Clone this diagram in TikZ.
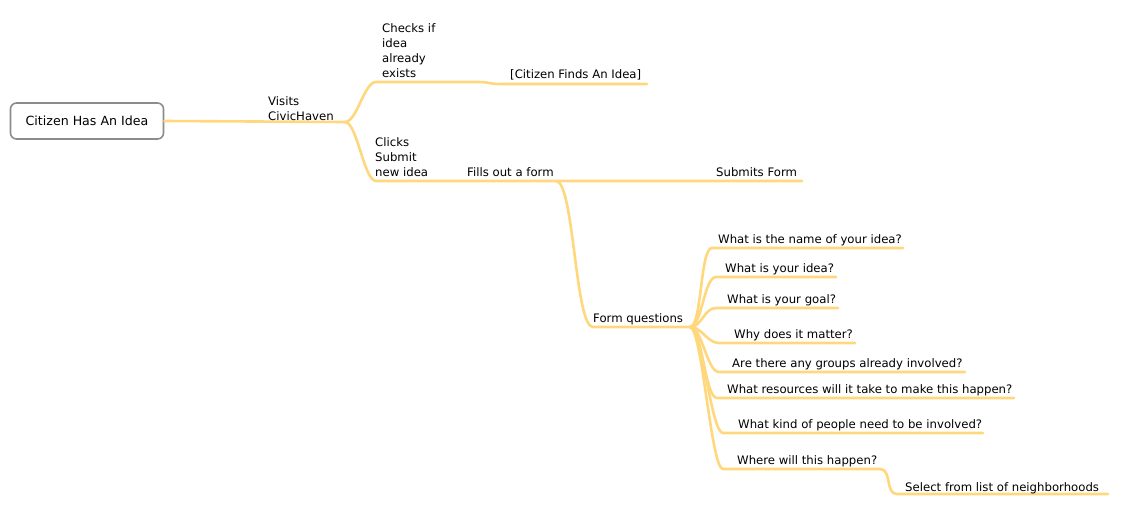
\documentclass[tikz,border=0pt]{standalone}
\usepackage{fontspec}
\setmainfont{DejaVu Sans}
\usepackage{xcolor}
\definecolor{branchcol}{HTML}{FFD77C}
\definecolor{boxcol}{HTML}{8C8C8C}

\tikzset{
  branch/.style={draw=branchcol, line width=2.6pt, line cap=round},
  twig/.style={out=0, in=180, distance=12pt},
  topic/.style={anchor=base west, inner sep=0pt, align=left, font=\fontsize{11.7}{15}\selectfont},
  rootbox/.style={draw=boxcol, line width=1.6pt, rounded corners=6pt, fill=white,
    minimum width=153pt, minimum height=36pt, font=\fontsize{12.6}{14}\selectfont}
}

\begin{document}
\begin{tikzpicture}[x=1pt, y=-1pt]
\useasboundingbox (0,0) rectangle (1125,514);

% line ends
\coordinate (visitsB) at (345,122);
\coordinate (checksA) at (376,82);
\coordinate (checksB) at (478,82);
\coordinate (findsA) at (500,84);
\coordinate (findsB) at (647,84);
\coordinate (clicksA) at (376,181);
\coordinate (clicksB) at (458,181);
\coordinate (fillsB) at (556,181);
\coordinate (submitsB) at (802,181);
\coordinate (formA) at (593,327);
\coordinate (formB) at (690,327);

\coordinate (q1A) at (712,248);  \coordinate (q1B) at (903,248);
\coordinate (q2A) at (716,277);  \coordinate (q2B) at (836,277);
\coordinate (q3A) at (716,308);  \coordinate (q3B) at (838,308);
\coordinate (q4A) at (719,343);  \coordinate (q4B) at (855,343);
\coordinate (q5A) at (719,372);  \coordinate (q5B) at (965,372);
\coordinate (q6A) at (717,398);  \coordinate (q6B) at (1014,398);
\coordinate (q7A) at (723,433);  \coordinate (q7B) at (983,433);
\coordinate (q8A) at (723,469);  \coordinate (q8B) at (880,469);
\coordinate (selA) at (897,494); \coordinate (selB) at (1108,494);

% branches
\path[branch] (visitsB) to[twig] (checksA) -- (checksB) to[twig] (findsA) -- (findsB);
\path[branch] (visitsB) to[twig] (clicksA) -- (clicksB) -- (fillsB) -- (submitsB);
\path[branch] (fillsB) to[out=0, in=180, distance=18pt] (formA) -- (formB);
\foreach \q in {q1,q2,q3,q4,q5,q6,q7,q8}
  \path[branch] (formB) to[twig] (\q A) -- (\q B);
\path[branch] (q8B) to[twig] (selA) -- (selB);

% root
\node[rootbox] (root) at (87,121) {Citizen Has An Idea};
\path[branch] (root.east) -- (visitsB);

% labels
\node[topic] (visits) at (268,120) {Visits\\CivicHaven};
\node[topic] (checks) at (382,77) {Checks if\\idea\\already\\exists};
\node[topic] (finds) at (510,78) {[Citizen Finds An Idea]};
\node[topic] (clicks) at (375,176) {Clicks\\Submit\\new idea};
\node[topic] (fills) at (467,176) {Fills out a form};
\node[topic] (submits) at (716,176) {Submits Form};
\node[topic] (form) at (593,322) {Form questions};

\node[topic] (q1) at (718,243) {What is the name of your idea?};
\node[topic] (q2) at (725,272) {What is your idea?};
\node[topic] (q3) at (727,303) {What is your goal?};
\node[topic] (q4) at (734,338) {Why does it matter?};
\node[topic] (q5) at (732,367) {Are there any groups already involved?};
\node[topic] (q6) at (727,393) {What resources will it take to make this happen?};
\node[topic] (q7) at (738,428) {What kind of people need to be involved?};
\node[topic] (q8) at (737,464) {Where will this happen?};
\node[topic] (sel) at (905,491) {Select from list of neighborhoods};

\end{tikzpicture}
\end{document}
